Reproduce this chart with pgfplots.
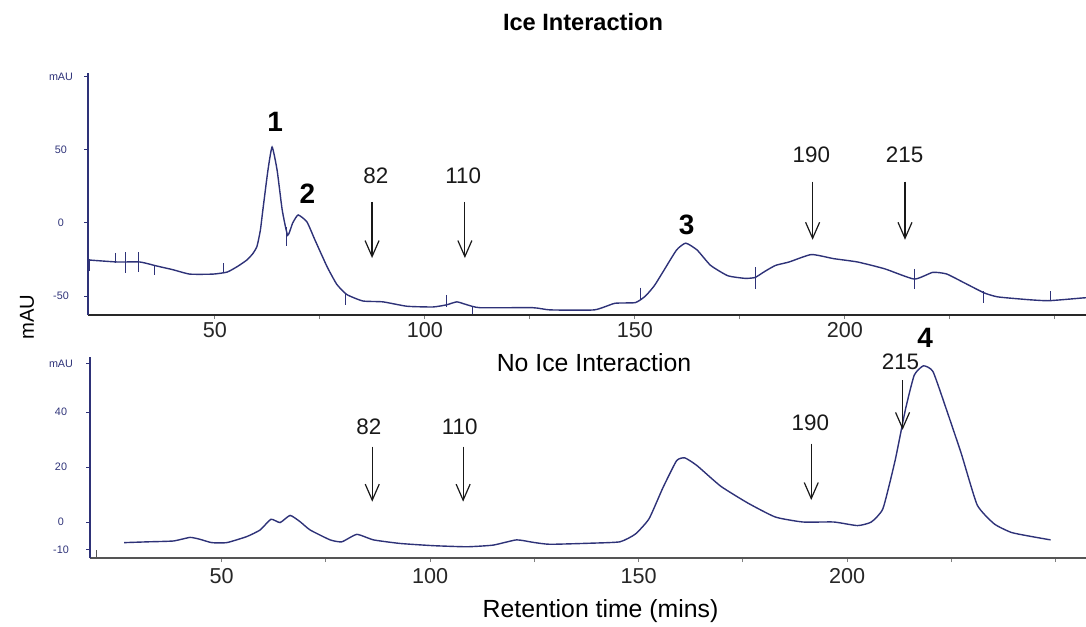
\documentclass[border=0pt]{standalone}
\usepackage{pgfplots}
\pgfplotsset{compat=1.18}
\usepackage{fontspec}
\setmainfont{Liberation Sans}
\usetikzlibrary{arrows.meta}

\definecolor{trace}{RGB}{46,50,120}
\definecolor{axisdark}{RGB}{40,40,40}
\definecolor{axisgray}{RGB}{85,85,85}

\tikzset{
  chromline/.style={draw=trace, line width=0.7pt, mark=none},
  peak/.style={font=\bfseries\fontsize{14}{16}\selectfont},
  fraction/.style={font=\fontsize{11.2}{13}\selectfont, text=black!90},
  pointer/.style={-{Straight Barb[length=8pt,width=7pt]}, line width=0.6pt, black!90},
}

\pgfplotsset{
  chrom/.style={
    scale only axis, anchor=south west, clip=false,
    axis x line=bottom, axis y line=left,
    y axis line style={-, draw=trace, line width=0.8pt},
    tick align=outside, major tick length=2pt,
    xtick={50,75,...,250},
    xticklabels={50,,100,,150,,200,,},
    xtick style={draw=gray, line width=0.5pt},
    ytick style={draw=trace, line width=0.5pt},
    xticklabel style={font=\fontsize{10.8}{12}\selectfont, text=black!85, inner sep=0pt, anchor=north},
    yticklabel style={font=\fontsize{5.4}{6}\selectfont, text=trace, inner sep=0pt, anchor=center},
    unbounded coords=jump,
  },
}

\begin{document}
\begin{tikzpicture}
\useasboundingbox (0pt,0pt) rectangle (543pt,-313pt);

% ---------------- upper chromatogram: ice interaction ----------------
\begin{axis}[chrom, at={(44pt,-157.5pt)}, width=499pt, height=121pt,
  xmin=19.76, xmax=257.4, ymin=-63, ymax=102.7,
  x axis line style={-, draw=axisdark, line width=1pt},
  ytick={-50,0,50,100}, yticklabels={-50,0,50,mAU},
  xticklabel style={yshift=-1.5pt}, yticklabel style={xshift=-11.5pt}]
\addplot[chromline, smooth, tension=0.3] coordinates {
 (19.8,-25.3) (26.7,-26.7) (32.1,-26.7) (36.2,-29.5) (40,-32) (44,-35)
 (49.5,-35) (52.9,-33.6) (55.5,-29.5) (57.6,-25.3) (59,-21) (60,-16)
 (60.8,-5) (61.4,9) (62.6,36) (63.6,52) (64.8,36) (66,9) (67.3,-8.4)
 (68.5,0) (69.8,5.5) (71.9,0.7) (73.8,-11.6) (76.7,-30) (79,-42)
 (81.4,-49) (85.2,-53.4) (90,-54) (95.7,-57) (101.9,-57.5) (105.2,-56)
 (107.6,-54) (110,-56) (113.1,-58) (125.7,-58) (129.8,-59.5) (140.3,-59.5)
 (145.2,-55) (150.1,-54.5) (152.5,-50) (154.6,-43) (156.6,-33.8)
 (159.9,-18.5) (162.1,-13.8) (164.8,-18.5) (168,-29) (172.1,-36.1)
 (176.2,-37.9) (178.6,-37.3) (181,-33) (183.5,-29) (186.7,-26.7)
 (192,-21.6) (197.3,-24.4) (203,-26.7) (209.5,-31.4) (216.5,-38.4)
 (220.9,-33.8) (224.2,-34.9) (228.3,-40.8) (233.1,-47.8) (236.4,-50.6)
 (243.7,-52.5) (248.6,-53.2) (256.7,-51.3) (257.4,-51.2)
};
% integration event marks
\addplot[chromline, line width=0.5pt] coordinates {
 (20.2,-24.7) (20.2,-32.9) (20.2,nan)
 (26.4,-20.5) (26.4,-27.4) (26.4,nan)
 (28.8,-19.9) (28.8,-34.2) (28.8,nan)
 (31.7,-19.9) (31.7,-33.6) (31.7,nan)
 (35.5,-28.8) (35.5,-35.6) (35.5,nan)
 (52.1,-27.4) (52.1,-34.2) (52.1,nan)
 (67.1,-2.7) (67.1,-15.8) (67.1,nan)
 (81,-48) (81,-56) (81,nan)
 (105.2,-49.3) (105.2,-57.5) (105.2,nan)
 (111.4,-57) (111.4,-62) (111.4,nan)
 (151.3,-44.2) (151.3,-52.5) (151.3,nan)
 (178.6,-30.2) (178.6,-45.5) (178.6,nan)
 (216.6,-31.4) (216.6,-45.5) (216.6,nan)
 (233.1,-46.6) (233.1,-54.8) (233.1,nan)
 (249,-46.6) (249,-53.6)
};
\node[peak] at (axis cs:64.3,69.2) {1};
\node[peak] at (axis cs:72,20.2) {2};
\node[peak] at (axis cs:162.3,-1) {3};
\node[fraction] at (axis cs:88.3,32.2) {82};
\draw[pointer] (axis cs:87.4,14.4) -- (axis cs:87.4,-24);
\node[fraction] at (axis cs:109.1,32.2) {110};
\draw[pointer] (axis cs:109.5,14.4) -- (axis cs:109.5,-24);
\node[fraction] at (axis cs:192,47) {190};
\draw[pointer] (axis cs:192.3,28.3) -- (axis cs:192.3,-11.5);
\node[fraction] at (axis cs:214.2,47) {215};
\draw[pointer] (axis cs:214.3,28.3) -- (axis cs:214.3,-11.5);
\end{axis}

% ---------------- lower chromatogram: no ice interaction ----------------
\begin{axis}[chrom, at={(45pt,-279pt)}, width=498pt, height=100.5pt,
  xmin=18.4, xmax=257.3, ymin=-13.09, ymax=60,
  x axis line style={-, draw=axisgray, line width=0.9pt},
  ytick={-10,0,20,40,57.5}, yticklabels={-10,0,20,40,mAU},
  xticklabel style={yshift=-3pt}, yticklabel style={xshift=-12.5pt}]
\addplot[chromline, smooth, tension=0.3] coordinates {
 (26.6,-7.5) (32.4,-7.2) (38.4,-6.9) (42.4,-5.6) (44.8,-6.3) (47.6,-7.5)
 (51.2,-7.5) (56,-5.3) (59.2,-2.9) (61.8,1) (64,-0.2) (66.4,2.4)
 (68.8,0.1) (71.2,-2.9) (76,-6.5) (78.8,-7.2) (82.4,-4.5) (86.4,-6.5)
 (92.8,-7.8) (100.7,-8.6) (108.8,-9) (115.1,-8.4) (120.7,-6.5)
 (124.7,-7.4) (128.7,-8.1) (138.6,-7.7) (145.5,-7.2) (149.2,-4.4)
 (152.5,1.2) (155.8,12.4) (159.1,22.3) (161.1,23.3) (164,20.5)
 (169.7,13) (176.3,6.8) (182.8,1.8) (189.4,0) (196.8,0) (202.5,-1.3)
 (205.8,0) (208.6,4.9) (211.5,22.3) (214,41) (216.1,53.4) (218.3,56.8)
 (220.6,54.7) (223.8,41) (227.4,24.8) (231.2,6.2) (235.3,-0.7)
 (239.4,-3.8) (244.3,-5.3) (248.8,-6.5)
};
\addplot[draw=axisgray, line width=0.6pt] coordinates {(19.9,-10.2) (19.9,-13.09)};
\node[fraction] at (axis cs:85.3,34.7) {82};
\draw[pointer] (axis cs:86.1,27.4) -- (axis cs:86.1,7.4);
\node[fraction] at (axis cs:107.1,34.7) {110};
\draw[pointer] (axis cs:107.9,27.4) -- (axis cs:107.9,7.4);
\node[fraction] at (axis cs:191.2,36) {190};
\draw[pointer] (axis cs:191.4,28.5) -- (axis cs:191.4,8);
\node[fraction] at (axis cs:212.8,58.4) {215};
\draw[pointer] (axis cs:213.3,51.6) -- (axis cs:213.3,33.5);
\node[peak] at (axis cs:218.7,66.9) {4};
\end{axis}

% titles and shared labels
\node[font=\bfseries\fontsize{11.8}{14}\selectfont, anchor=base] at (291.5pt,-15.5pt) {Ice Interaction};
\node[font=\fontsize{12.4}{15}\selectfont, anchor=base] at (297pt,-185.5pt) {No Ice Interaction};
\node[font=\fontsize{12.4}{15}\selectfont, anchor=base] at (300.25pt,-308.7pt) {Retention time (mins)};
\node[font=\fontsize{10.1}{12}\selectfont, rotate=90] at (13.5pt,-158.5pt) {mAU};
\end{tikzpicture}
\end{document}
